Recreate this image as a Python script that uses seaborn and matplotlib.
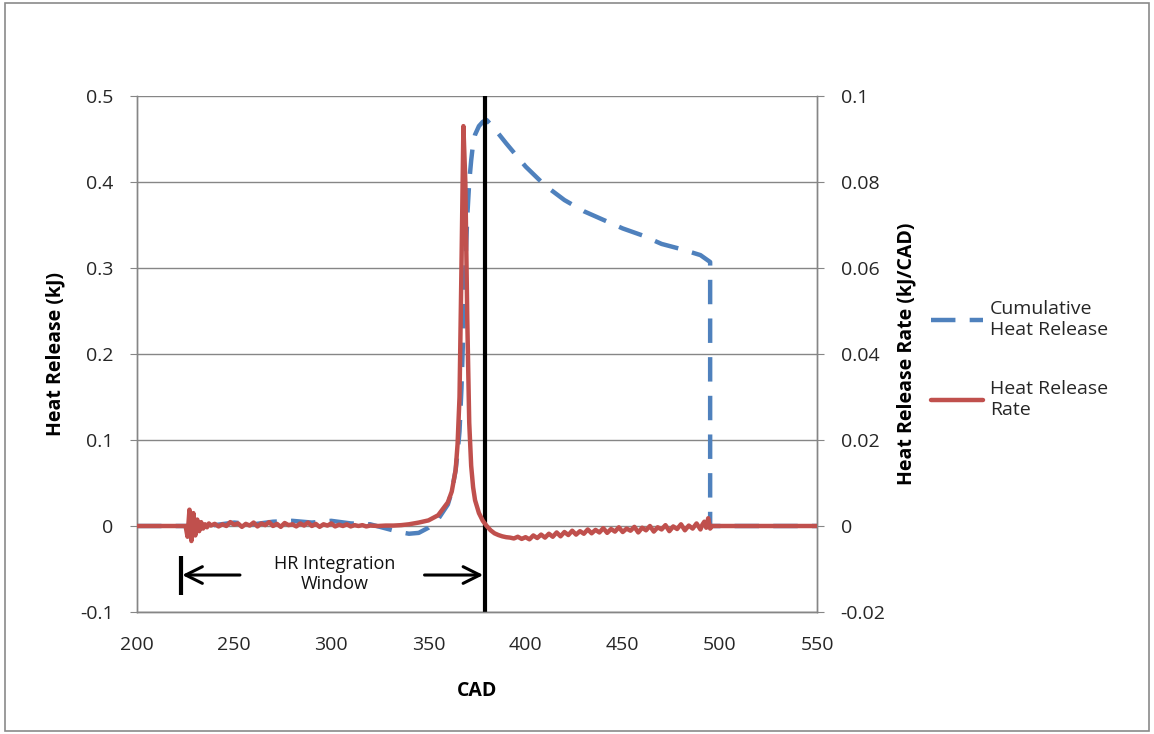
import matplotlib
matplotlib.use("Agg")
import matplotlib.pyplot as plt
import seaborn as sns
from matplotlib.lines import Line2D
from matplotlib.patches import Rectangle

# ---------------- data ----------------
hrr_cad = [200, 224, 225, 226, 227, 228, 229, 230, 231, 232,
           233, 234, 235, 236, 237, 238, 240, 242, 244, 246,
           248, 250, 252, 254, 256, 258, 260, 262, 264, 266,
           268, 270, 272, 274, 276, 278, 280, 282, 284, 286,
           288, 290, 292, 294, 296, 298, 300, 302, 304, 306,
           308, 310, 312, 314, 316, 318, 320, 324, 328, 332,
           336, 340, 345, 350, 355, 360, 362, 364, 365, 366,
           367, 368, 369, 370, 371, 372, 373, 374, 376, 378,
           380, 382, 384, 386, 388, 390, 392, 394, 396, 398,
           400, 402, 404, 406, 408, 410, 412, 414, 416, 418,
           420, 422, 424, 426, 428, 430, 432, 434, 436, 438,
           440, 442, 444, 446, 448, 450, 452, 454, 456, 458,
           460, 462, 464, 466, 468, 470, 472, 474, 476, 478,
           480, 482, 484, 486, 488, 490, 491, 492, 493, 494,
           495, 496, 550]
hrr_val = [0.0, 0.0, 0.0, -0.0025, 0.0038, -0.0035, 0.0030, -0.0022, 0.0015, -0.0012,
           0.0009, -0.0006, 0.0004, -0.0003, 0.0006, 0.0001, 0.0005, -0.0001, 0.0004, 0.0000,
           0.0009, 0.0003, 0.0006, -0.0002, 0.0005, 0.0001, 0.0008, -0.0001, 0.0006, 0.0002,
           0.0009, 0.0000, 0.0005, -0.0002, 0.0007, 0.0002, 0.0004, -0.0001, 0.0006, 0.0001,
           0.0008, 0.0000, 0.0005, -0.0002, 0.0004, 0.0001, 0.0006, -0.0001, 0.0003, 0.0000,
           0.0004, -0.0001, 0.0002, 0.0000, 0.0002, -0.0001, 0.0001, 0.0000, 0.0001, 0.0001,
           0.0002, 0.0004, 0.0008, 0.0013, 0.0025, 0.0055, 0.0080, 0.0130, 0.0190, 0.0300,
           0.0600, 0.0930, 0.0800, 0.0480, 0.0240, 0.0140, 0.0090, 0.0060, 0.0030, 0.0012,
           0.0000, -0.0010, -0.0017, -0.0021, -0.0024, -0.0026, -0.0027, -0.0029, -0.0025, -0.0030,
           -0.0026, -0.0031, -0.0022, -0.0028, -0.0020, -0.0027, -0.0018, -0.0025, -0.0015, -0.0024,
           -0.0014, -0.0021, -0.0011, -0.0020, -0.0012, -0.0018, -0.0008, -0.0017, -0.0009, -0.0015,
           -0.0005, -0.0016, -0.0007, -0.0013, -0.0003, -0.0014, -0.0006, -0.0011, -0.0002, -0.0015,
           -0.0004, -0.0010, 0.0000, -0.0013, -0.0003, -0.0008, 0.0002, -0.0012, -0.0001, -0.0007,
           0.0004, -0.0010, 0.0001, -0.0006, 0.0006, -0.0008, 0.0003, 0.0010, -0.0004, 0.0018,
           -0.0006, 0.0000, 0.0000]

chr_cad = [200, 225, 230, 240, 250, 260, 270, 280, 290, 300, 310, 320, 330, 335, 340,
           345, 350, 355, 360, 362, 364, 365, 366, 367, 368, 369, 370, 371, 372, 373,
           374, 376, 378, 380, 384, 390, 400, 410, 420, 430, 440, 450, 460, 470, 480,
           490, 495, 495, 550]
chr_val = [0.0, 0.0, 0.002, 0.001, 0.004, 0.002, 0.005, 0.006, 0.004, 0.006, 0.003,
           0.002, -0.004, -0.007, -0.009, -0.008, -0.002, 0.008, 0.025, 0.040, 0.065,
           0.085, 0.110, 0.160, 0.230, 0.300, 0.360, 0.400, 0.425, 0.445, 0.455, 0.465,
           0.470, 0.472, 0.462, 0.445, 0.418, 0.396, 0.379, 0.366, 0.356, 0.346, 0.338,
           0.328, 0.322, 0.315, 0.307, 0.0, 0.0]

x_ticks = [200, 250, 300, 350, 400, 450, 500, 550]
left_ticks = [-0.1, 0, 0.1, 0.2, 0.3, 0.4, 0.5]
right_ticks = [-0.02, 0, 0.02, 0.04, 0.06, 0.08, 0.1]
left_labels = ["-0.1", "0", "0.1", "0.2", "0.3", "0.4", "0.5"]
right_labels = ["-0.02", "0", "0.02", "0.04", "0.06", "0.08", "0.1"]

labels = ["Cumulative\nHeat Release", "Heat Release\nRate"]
window_start = 222.5
window_end = 379
# --------------------------------------

assert len(hrr_cad) == len(hrr_val)
assert len(chr_cad) == len(chr_val)

sns.set_style("white")
plt.rcParams["font.family"] = ["Open Sans", "DejaVu Sans"]

BLUE = "#4F81BD"
RED = "#C0504D"
GRID = "#868686"
TXT = "#262626"
FS = 14

fig = plt.figure(figsize=(11.54, 7.34), dpi=100)
ax = fig.add_axes([137 / 1154, 1 - 612 / 734, 680 / 1154, 516 / 734])
ax2 = ax.twinx()

DASH = [5.5, 3.2]
sns.lineplot(x=chr_cad, y=chr_val, ax=ax, estimator=None, sort=False,
             color=BLUE, lw=3.2, zorder=3)
ax.lines[-1].set_dashes(DASH)
ax.lines[-1].set_dash_capstyle("butt")

sns.lineplot(x=hrr_cad, y=hrr_val, ax=ax2, estimator=None, sort=False,
             color=RED, lw=3.2, zorder=3)

ax.set_xlim(200, 550)
ax.set_ylim(-0.1, 0.5)
ax2.set_ylim(-0.02, 0.1)

ax.set_xticks(x_ticks)
ax.set_yticks(left_ticks)
ax.set_yticklabels(left_labels)
ax2.set_yticks(right_ticks)
ax2.set_yticklabels(right_labels)

ax.yaxis.grid(True, color=GRID, lw=1.0)
ax.xaxis.grid(False)
ax.set_axisbelow(True)

for a in (ax, ax2):
    for s in a.spines.values():
        s.set_color(GRID)
        s.set_linewidth(1.0)
    a.spines["top"].set_visible(False)
ax.tick_params(axis="y", labelsize=FS, colors=TXT, length=5, color=GRID,
               direction="out", left=True, pad=12)
ax.tick_params(axis="x", labelsize=FS, colors=TXT, length=0, pad=17)
ax2.tick_params(axis="y", labelsize=FS, colors=TXT, length=5,
                color=GRID, direction="out", right=True, pad=12)
ax2.grid(False)

ax.set_xlabel("CAD", fontsize=FS, fontweight="bold", labelpad=20, color="black")
ax.set_ylabel("Heat Release (kJ)", fontsize=FS, fontweight="bold", labelpad=10, color="black")
ax2.set_ylabel("Heat Release Rate (kJ/CAD)", fontsize=FS, fontweight="bold", labelpad=8,
               color="black")

# Integration window annotation
ax.axvline(window_end, color="black", lw=3, zorder=5)
ax.plot([window_start, window_start], [-0.035, -0.080], color="black", lw=3,
        solid_capstyle="butt", zorder=5)
ax.annotate("", xy=(window_start + 0.8, -0.057), xytext=(253, -0.057),
            arrowprops=dict(arrowstyle="->", lw=2.2, color="black",
                            mutation_scale=30, shrinkA=0, shrinkB=0))
ax.annotate("", xy=(window_end - 0.8, -0.057), xytext=(348, -0.057),
            arrowprops=dict(arrowstyle="->", lw=2.2, color="black",
                            mutation_scale=30, shrinkA=0, shrinkB=0))
ax.text(302, -0.056, "HR Integration\nWindow", ha="center", va="center",
        fontsize=13, color="#111111", linespacing=1.15)

# Legend
handles = [Line2D([0], [0], color=BLUE, lw=3.2, dashes=DASH, dash_capstyle="butt"),
           Line2D([0], [0], color=RED, lw=3.2)]
fig.legend(handles, labels, loc="center left", bbox_to_anchor=(913 / 1154, 0.51),
           frameon=False, fontsize=FS, handlelength=2.7, handletextpad=0.35,
           labelspacing=2.1, labelcolor=TXT)

# outer border
fig.patches.append(Rectangle((0.004, 0.004), 0.992, 0.992, transform=fig.transFigure,
                             fill=False, edgecolor="#8a8a8a", lw=1.2))

fig.savefig("out.png", dpi=100)
